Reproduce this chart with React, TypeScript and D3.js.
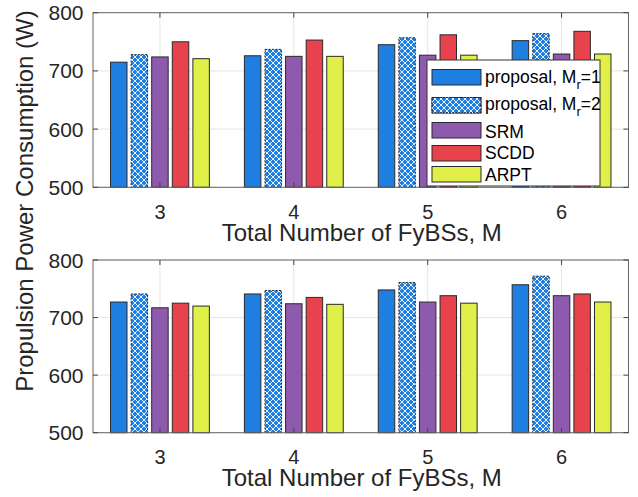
import React from "react";
import * as d3 from "d3";

const categories = [3, 4, 5, 6];
const seriesNames = ["proposal1", "proposal2", "SRM", "SCDD", "ARPT"];
const yTicks = [500, 600, 700, 800];

// top panel
const topProposal1 = [715, 726, 745, 752];
const topProposal2 = [728, 737, 757, 764];
const topSRM = [724, 725, 727, 729];
const topSCDD = [750, 753, 762, 768];
const topARPT = [721, 725, 727, 729];

// bottom panel
const botProposal1 = [727, 741, 748, 757];
const botProposal2 = [741, 747, 761, 772];
const botSRM = [717, 724, 727, 738];
const botSCDD = [725, 735, 738, 741];
const botARPT = [720, 723, 725, 727];

const colors: Record<string, string> = {
  proposal1: "#1f7fe0",
  proposal2: "#1f7fe0",
  SRM: "#8e5aae",
  SCDD: "#e8434c",
  ARPT: "#e0f048",
};

const FONT = "'Liberation Sans', Arial, sans-serif";
const W = 638;
const H = 497;
const left = 93;
const right = 628.5;

function Panel({ top, bottom, data }: { top: number; bottom: number; data: number[][] }) {
  const x = d3.scaleLinear().domain([2.5, 6.5]).range([left, right]);
  const y = d3.scaleLinear().domain([500, 800]).range([bottom, top]);
  const gw = (x(1) - x(0)) * 0.769;

  return (
    <g>
      <rect x={left} y={top} width={right - left} height={bottom - top} fill="#fff" />
      {yTicks.map((t) => (
        <line key={"gy" + t} x1={left} x2={right} y1={y(t)} y2={y(t)} stroke="#e5e5e5" strokeWidth={1} />
      ))}
      {categories.map((c) => (
        <line key={"gx" + c} x1={x(c)} x2={x(c)} y1={top} y2={bottom} stroke="#e5e5e5" strokeWidth={1} />
      ))}
      {categories.map((c, ci) => {
        const inner = d3
          .scaleBand<string>()
          .domain(seriesNames)
          .range([x(c) - gw / 2, x(c) + gw / 2])
          .paddingInner(0.2)
          .paddingOuter(0.1);
        return seriesNames.map((s, si) => {
          const v = data[si][ci];
          const bx = inner(s)!;
          const props = {
            x: bx,
            y: y(v),
            width: inner.bandwidth(),
            height: bottom - y(v),
          };
          if (s === "proposal2") {
            return (
              <g key={s + c}>
                <rect {...props} fill={colors[s]} />
                <rect {...props} fill="url(#xhatch)" stroke="#2a2a2a" strokeWidth={1} strokeDasharray="2,1.5" />
              </g>
            );
          }
          return <rect key={s + c} {...props} fill={colors[s]} stroke="#2a2a2a" strokeWidth={1} />;
        });
      })}
      <rect x={left} y={top} width={right - left} height={bottom - top} fill="none" stroke="#666" strokeWidth={1} />
      {yTicks.map((t) => (
        <g key={"ty" + t}>
          <line x1={left} x2={left + 5} y1={y(t)} y2={y(t)} stroke="#444" />
          <line x1={right} x2={right - 5} y1={y(t)} y2={y(t)} stroke="#444" />
          <text x={83.5} y={y(t)} dy="0.36em" textAnchor="end" fontSize={21} fill="#262626" fontFamily={FONT}>
            {t}
          </text>
        </g>
      ))}
      {categories.map((c) => (
        <g key={"tx" + c}>
          <line x1={x(c)} x2={x(c)} y1={bottom} y2={bottom - 5} stroke="#444" />
          <line x1={x(c)} x2={x(c)} y1={top} y2={top + 5} stroke="#444" />
          <text x={x(c)} y={bottom + 31.5} textAnchor="middle" fontSize={20} fill="#262626" fontFamily={FONT}>
            {c}
          </text>
        </g>
      ))}
      <text x={(left + right) / 2 + 1} y={bottom + 53.5} textAnchor="middle" fontSize={24} fill="#262626" fontFamily={FONT}>
        Total Number of FyBSs, M
      </text>
    </g>
  );
}

function Legend() {
  const lx = 427;
  const ly = 60;
  const entries = [
    { key: "proposal1", label: "proposal, M", sub: "r", tail: "=1", sy: 69.5, base: 82.7 },
    { key: "proposal2", label: "proposal, M", sub: "r", tail: "=2", sy: 97.5, base: 110 },
    { key: "SRM", label: "SRM", sy: 122.5, base: 137.7 },
    { key: "SCDD", label: "SCDD", sy: 145.5, base: 159.3 },
    { key: "ARPT", label: "ARPT", sy: 166.5, base: 180.7 },
  ];
  return (
    <g>
      <rect x={lx} y={ly} width={173} height={126} fill="#fff" stroke="#333" strokeWidth={1} />
      {entries.map((e) => (
        <g key={e.key}>
          <rect x={432} y={e.sy} width={49} height={15.5} fill={colors[e.key]} stroke="#2a2a2a" strokeWidth={1} />
          {e.key === "proposal2" && (
            <rect x={432} y={e.sy} width={49} height={15.5} fill="url(#xhatch)" stroke="#2a2a2a" strokeDasharray="2,1.5" />
          )}
          <text x={485} y={e.base} fontSize={17.5} fill="#000" fontFamily={FONT}>
            {e.label}
            {e.sub && (
              <tspan fontSize={13} dy={6}>
                {e.sub}
              </tspan>
            )}
            {e.tail && <tspan dy={-6}>{e.tail}</tspan>}
          </text>
        </g>
      ))}
    </g>
  );
}

export default function App() {
  return (
    <svg
      width={W}
      height={H}
      style={{ position: "absolute", left: 0, top: 0, background: "#fff" }}
    >
      <defs>
        <pattern id="xhatch" width={6} height={6} patternUnits="userSpaceOnUse">
          <path d="M0,0 L6,6 M6,0 L0,6" stroke="#fff" strokeWidth={1} opacity={0.9} />
        </pattern>
      </defs>
      <rect width={W} height={H} fill="#fff" />
      <Panel
        top={12.7}
        bottom={187.3}
        data={[topProposal1, topProposal2, topSRM, topSCDD, topARPT]}
      />
      <Panel
        top={260}
        bottom={432.7}
        data={[botProposal1, botProposal2, botSRM, botSCDD, botARPT]}
      />
      <Legend />
      <text
        transform="translate(33,201) rotate(-90)"
        textAnchor="middle"
        fontSize={24}
        fill="#262626"
        fontFamily={FONT}
      >
        Propulsion Power Consumption (W)
      </text>
    </svg>
  );
}
